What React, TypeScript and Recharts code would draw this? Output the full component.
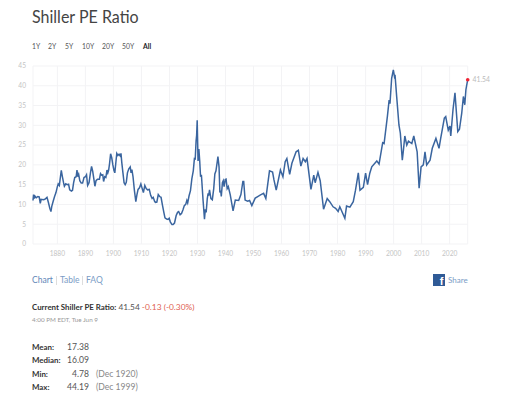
import React from 'react';
import { LineChart, Line, XAxis, YAxis, CartesianGrid, ReferenceDot } from 'recharts';

const years = [
  1871.3,1871.5,1871.8,1872,1872.5,1873,1873.5,1873.9,1874.2,1875,1875.5,1876,1876.3,1876.8,1877.3,1877.7,1878,1878.5,1879,1879.5,
  1880,1880.3,1880.7,1881,1881.4,1881.8,1882.2,1882.5,1883,1883.5,1884,1884.4,1885,1885.4,1885.8,1886.2,1886.7,1887,1887.3,1887.6,
  1888,1888.5,1889,1889.5,1890,1890.4,1890.8,1891.3,1891.8,1892.2,1892.6,1893,1893.4,1893.8,1894.3,1895,1895.4,1895.8,1896.2,1896.5,
  1896.9,1897.3,1897.7,1898,1898.3,1898.6,1899,1899.4,1899.8,1900.2,1900.5,1900.9,1901.2,1901.6,1902,1902.4,1902.7,1903,1903.4,1903.8,
  1904.2,1904.6,1905,1905.5,1906,1906.3,1906.6,1907,1907.5,1908,1908.4,1908.8,1909.3,1909.8,1910.2,1910.7,1911.2,1911.7,1912.2,1912.8,
  1913.3,1913.8,1914.2,1914.7,1915,1915.5,1916,1916.5,1917,1917.5,1918,1918.4,1919,1919.5,1919.9,1920.3,1920.9,1921.3,1921.8,1922.4,
  1922.9,1923.3,1923.8,1924.3,1924.8,1925.3,1925.8,1926.2,1926.5,1927,1927.5,1928,1928.5,1928.9,1929.2,1929.5,1929.7,1929.9,1930.2,1930.5,
  1930.8,1931.1,1931.4,1932,1932.5,1932.8,1933.1,1933.5,1933.8,1934,1934.3,1934.8,1935.3,1935.8,1936.2,1936.6,1937,1937.3,1937.7,1938,
  1938.3,1938.5,1938.9,1939.2,1939.5,1939.9,1940.2,1940.6,1941,1941.7,1942.7,1943.5,1944.7,1945.5,1946.2,1946.5,1947,1947.9,1948.6,1949.4,
  1950.6,1951.5,1952.5,1953.6,1954.4,1955.7,1956.8,1957.3,1958.1,1959.6,1960.5,1961.3,1961.9,1962.9,1963.7,1965.2,1966,1966.9,1967.7,1968.5,
  1969.1,1970.5,1971.5,1972,1973,1973.8,1975,1976.3,1977.2,1978.4,1979.3,1980.2,1980.8,1982.6,1983.2,1984.4,1985.6,1986.4,1987.4,1988,
  1989.2,1990,1990.7,1991.5,1992.2,1994,1994.8,1996.1,1996.6,1997.8,1998.4,1998.7,1999.3,1999.9,2000.3,2000.5,2001.1,2001.9,2002.4,2003.1,
  2003.5,2004,2004.7,2005.3,2006.5,2007.2,2008.4,2009.1,2009.8,2010.6,2011.2,2011.8,2013,2013.8,2015.1,2016.2,2016.8,2018.1,2018.6,2019.5,
  2020.1,2020.4,2021.2,2021.9,2022.9,2023.5,2024.3,2024.9,2025.4,2025.8,2026.44,
];

const values = [
  11,12.5,11.5,12.1,11.7,12,11.9,10.3,11.3,11.2,11.3,11.6,11.8,10.5,9,8.2,9.5,10.8,12,13,
  14.5,15.2,14.8,16.5,18.6,17,15.5,14.6,15.2,15,15.1,13.7,13.4,13.6,15.5,16.8,17,18.7,17,17.6,
  16,15.4,15.4,16.8,17,17.5,14.8,15.5,18,19.6,18.4,16.5,14.6,16,16.4,16.4,17.8,17.4,17.5,15.8,
  17,16.8,18.7,18,18.7,20.2,22.8,21.8,20,18.6,18,20.8,22.9,22.4,22.7,22.3,22.9,20.5,18,15.5,
  15,15.6,18,19,19.5,18,18.8,17,13.5,10.7,12.5,13.8,14.2,15.2,14.2,13,14.8,14,13.7,13.8,
  12.3,11.5,11.8,10.8,10.5,10.6,12.5,12,11.8,9.8,8,6.6,6.3,6.2,6.5,5.6,4.9,4.9,5.3,7.2,
  8,8.2,7.4,7.7,8.6,9.7,10,11,10.4,12.2,13.5,16.5,18.5,21.6,21.5,26,27.5,31.3,21,24,
  21,17,17.5,11,6.3,8.8,8,11.5,12.8,12.2,13.7,11.5,11.2,14,17.7,18.5,20.5,22.1,19.5,13,
  13.5,12,15.5,16,14.5,16.3,16.4,14,14.5,12.4,8.4,11.1,11,12.5,15.8,15.8,11.1,10.8,11,9.7,
  11.6,12,12.4,12.8,11.5,18.5,18.2,16.2,13.6,18.7,17,20.8,21.6,17.6,20.4,23.3,23.7,19.7,21.6,20.8,
  21.6,13.8,17.4,15.5,18.1,16,8.8,11.5,10.7,9.4,9,8.2,9.4,6.5,9.6,9.3,10.7,13.6,18,13.6,
  14.3,17.9,15,17.9,19.5,21,20.2,25.6,25.4,32.4,36.4,35.5,41.9,44,42.4,42.8,37.2,30.1,28,21.2,
  23.7,27.3,25,26,25.4,27.3,23.3,14.1,19.5,20,23.3,20,21.2,24.2,26.7,24.2,26.7,31.8,32.2,28.8,
  29.8,27.3,34,38.2,28.4,29,33,37.3,35.2,39,41.54,
];

const xTicks = [1880,1890,1900,1910,1920,1930,1940,1950,1960,1970,1980,1990,2000,2010,2020];
const yTicks = [0,5,10,15,20,25,30,35,40,45];
const ranges = ['1Y','2Y','5Y','10Y','20Y','50Y','All'];
const rangeX = [32,48,65,82,102,122,143];
const statLabels = ['Mean:','Median:','Min:','Max:'];
const statValues = ['17.38','16.09','4.78','44.19'];
const statDates = ['','','(Dec 1920)','(Dec 1999)'];

const rows = years.map((year, i) => ({ year, pe: values[i] }));
const FONT = 'Lato, sans-serif';

const T = ({ x, y, size, color, weight, right, children }: any) => (
  <div style={{
    position: 'absolute', top: y, lineHeight: 0, whiteSpace: 'nowrap', fontSize: size, color,
    fontWeight: weight ?? 400, ...(right ? { right: 509 - x } : { left: x }),
  }}>{children}</div>
);

export default function App() {
  return (
    <div style={{ position: 'absolute', left: 0, top: 0, width: 509, height: 400, background: '#fff', fontFamily: FONT, overflow: 'hidden' }}>
      <div style={{ position: 'absolute', left: 32, top: 16, lineHeight: 0, whiteSpace: 'nowrap', fontSize: 18, color: '#444', transform: 'scaleX(0.89)', transformOrigin: 'left center' }}>Shiller PE Ratio</div>
      {ranges.map((r, i) => (
        <T key={r} x={rangeX[i]} y={46} size={6.8} color={r === 'All' ? '#222' : '#555'} weight={r === 'All' ? 700 : 400}>{r}</T>
      ))}
      <div style={{ position: 'absolute', left: 0, top: 0 }}>
        <LineChart width={509} height={262} data={rows} margin={{ top: 66, right: 41.3, bottom: 0, left: 0 }}>
          <CartesianGrid stroke="#f3f3f5" strokeWidth={1} />
          <XAxis dataKey="year" type="number" domain={[1871.3, 2026.44]} ticks={xTicks} axisLine={false} tickLine={false} height={18}
            tick={{ fontSize: 6.6, fill: '#c4c4c4', fontFamily: FONT }} tickMargin={1} interval={0} />
          <YAxis type="number" domain={[0, 45]} ticks={yTicks} width={33} axisLine={false} tickLine={false}
            tick={{ fontSize: 6.6, fill: '#c4c4c4', fontFamily: FONT }} tickMargin={1} interval={0} />
          <Line dataKey="pe" stroke="#3a659f" strokeWidth={1.5} dot={false} isAnimationActive={false} />
          <ReferenceDot x={2026.44} y={41.54} r={1.8} fill="#ee2233" stroke="none" ifOverflow="visible"
            label={{ value: '41.54', position: 'right', fontSize: 6.8, fill: '#bbb', fontFamily: FONT, offset: 3 }} />
        </LineChart>
      </div>
      <T x={32} y={280} size={8.5} color="#5f86b8">Chart</T>
      <div style={{ position: 'absolute', left: 56, top: 276, width: 1, height: 9, background: '#ddd' }} />
      <T x={60} y={280} size={8.5} color="#7a9cc6">Table</T>
      <div style={{ position: 'absolute', left: 82, top: 276, width: 1, height: 9, background: '#ddd' }} />
      <T x={86} y={280} size={8.5} color="#7a9cc6">FAQ</T>
      <div style={{ position: 'absolute', left: 433, top: 274, width: 12, height: 12, background: '#2f5a96' }}>
        <div style={{ position: 'absolute', right: 1.5, top: 7, lineHeight: 0, fontSize: 11, fontWeight: 700, color: '#fff', fontFamily: 'Liberation Sans, sans-serif' }}>f</div>
      </div>
      <T x={448} y={280} size={8} color="#7a9cc6">Share</T>
      <T x={32} y={307} size={7.9} color="#333">
        <span style={{ fontWeight: 700 }}>Current Shiller PE Ratio:</span>{' '}
        <span style={{ color: '#555', fontSize: 8.4 }}>41.54</span>{' '}
        <span style={{ color: '#e0604f', fontSize: 8.4 }}>-0.13 (-0.30%)</span>
      </T>
      <T x={32} y={320} size={6.3} color="#999">4:00 PM EDT, Tue Jun 9</T>
      {statLabels.map((s, i) => {
        const y = 347 + i * 13.4;
        return (
          <React.Fragment key={s}>
            <T x={32} y={y} size={7.9} color="#333" weight={700}>{s}</T>
            <T x={89} y={y} size={8.6} color="#555" right>{statValues[i]}</T>
            {statDates[i] && <T x={96} y={y} size={8.6} color="#888">{statDates[i]}</T>}
          </React.Fragment>
        );
      })}
    </div>
  );
}
